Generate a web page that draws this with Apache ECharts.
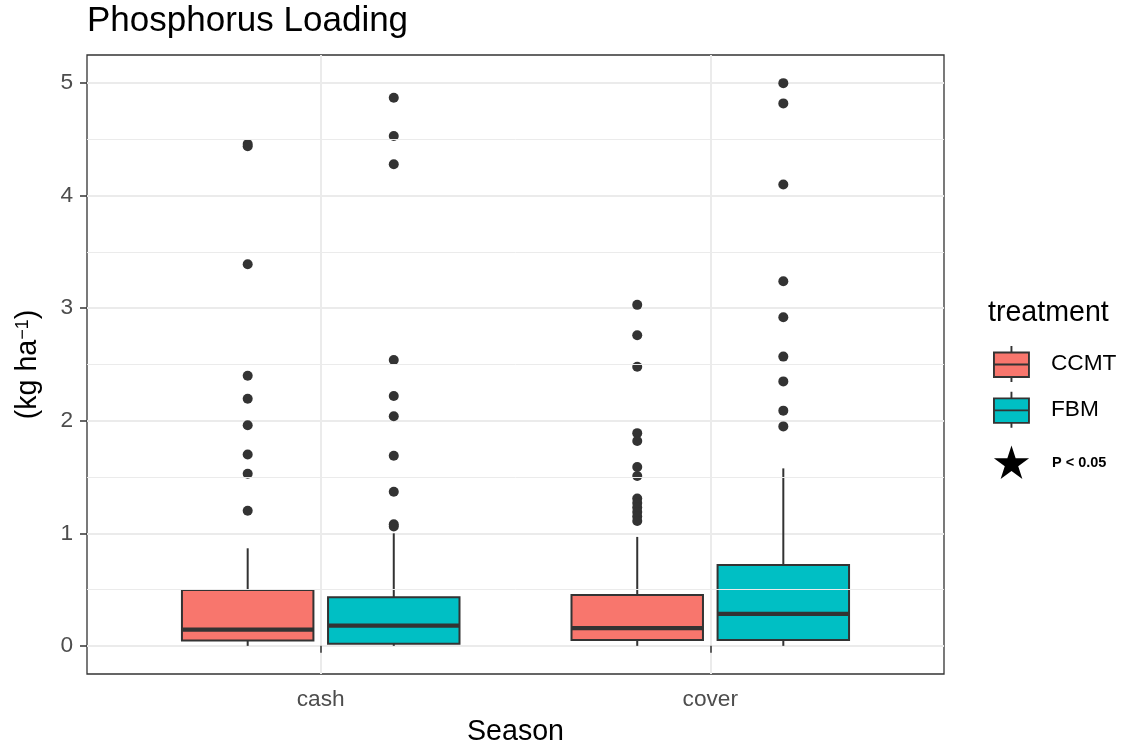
<!DOCTYPE html>
<html>
<head>
<meta charset="utf-8">
<script src="https://cdn.jsdelivr.net/npm/echarts@6/dist/echarts.min.js"></script>
<style>html,body{margin:0;padding:0;background:#fff}#c{width:1121px;height:746px}</style>
</head>
<body>
<div id="c"></div>
<script>
// ---- data ----
const categories = ['cash', 'cover'];
const groups = ['CCMT', 'FBM'];
const groupColors = ['#F8766D', '#00BFC4'];
// [lower whisker, Q1, median, Q3, upper whisker] per category
const ccmtBox = [[0.00, 0.047, 0.145, 0.497, 0.867], [0.00, 0.053, 0.157, 0.453, 0.968]];
const fbmBox  = [[0.00, 0.018, 0.180, 0.432, 1.000], [0.00, 0.053, 0.284, 0.719, 1.577]];
const ccmtOutCash  = [4.46, 4.44, 3.39, 2.40, 2.195, 1.96, 1.70, 1.53, 1.20];
const ccmtOutCover = [3.03, 2.76, 2.48, 1.89, 1.82, 1.59, 1.51, 1.31, 1.27, 1.23, 1.19, 1.15, 1.11];
const fbmOutCash   = [4.87, 4.53, 4.28, 2.54, 2.22, 2.04, 1.69, 1.37, 1.08, 1.06];
const fbmOutCover  = [5.00, 4.82, 4.10, 3.24, 2.92, 2.57, 2.35, 2.09, 1.95];
const yTicks = [0, 1, 2, 3, 4, 5];
const yMinor = [0.5, 1.5, 2.5, 3.5, 4.5];
const xTicks = [1, 2];

// ---- layout helpers (ggplot-like dodge) ----
const dodge = [-0.1875, 0.1875];
const boxWidth = 0.3375;
const boxes = [ccmtBox, fbmBox];
const outliers = [[ccmtOutCash, ccmtOutCover], [fbmOutCash, fbmOutCover]];
const DARK = '#333333';

function boxData(g) {
  return boxes[g].map((s, i) => [i + 1 + dodge[g]].concat(s));
}
function outData() {
  const pts = [];
  outliers.forEach((byCat, g) => byCat.forEach((vals, i) => vals.forEach(v => pts.push([i + 1 + dodge[g], v]))));
  return pts;
}
function renderBox(params, api) {
  const x = api.value(0);
  const lo = api.coord([x, api.value(1)]);
  const q1 = api.coord([x, api.value(2)]);
  const md = api.coord([x, api.value(3)]);
  const q3 = api.coord([x, api.value(4)]);
  const hi = api.coord([x, api.value(5)]);
  const hw = api.size([boxWidth, 0])[0] / 2;
  const color = api.visual('color');
  const cx = q1[0];
  return {
    type: 'group',
    children: [
      { type: 'line', shape: { x1: cx, y1: lo[1], x2: cx, y2: q1[1] }, style: { stroke: DARK, lineWidth: 2 } },
      { type: 'line', shape: { x1: cx, y1: q3[1], x2: cx, y2: hi[1] }, style: { stroke: DARK, lineWidth: 2 } },
      { type: 'rect', shape: { x: cx - hw, y: q3[1], width: hw * 2, height: q1[1] - q3[1] },
        style: { fill: color, stroke: DARK, lineWidth: 2 } },
      { type: 'line', shape: { x1: cx - hw, y1: md[1], x2: cx + hw, y2: md[1] }, style: { stroke: DARK, lineWidth: 4.3 } }
    ]
  };
}

// star polygon for annotation
function starPoints(cx, cy, R) {
  const r = R * 0.382, pts = [];
  for (let k = 0; k < 10; k++) {
    const rad = k % 2 === 0 ? R : r;
    const a = -Math.PI / 2 + k * Math.PI / 5;
    pts.push([cx + rad * Math.cos(a), cy + rad * Math.sin(a)]);
  }
  return pts;
}

const FONT = 'Liberation Sans, Arial, Helvetica, sans-serif';
const chart = echarts.init(document.getElementById('c'), null, { renderer: 'canvas' });
const boxIcon = 'path://M17.5,0L17.5,6.5M0,6.5L35,6.5L35,31L0,31ZM0,18.5L35,18.5M17.5,31L17.5,36';

chart.setOption({
  animation: false,
  textStyle: { fontFamily: FONT },
  title: [
    { text: 'Phosphorus Loading', left: 87, top: 4, padding: 0,
      textStyle: { fontFamily: FONT, fontSize: 35, fontWeight: 'normal', color: '#000' } },
    { text: 'treatment', left: 988, top: 299, padding: 0,
      textStyle: { fontFamily: FONT, fontSize: 28.6, fontWeight: 'normal', color: '#000' } }
  ],
  legend: {
    data: groups,
    orient: 'vertical', left: 993, top: 345, padding: 0,
    itemWidth: 35, itemHeight: 36, itemGap: 8,
    icon: boxIcon,
    itemStyle: { borderColor: DARK, borderWidth: 1.9 },
    textStyle: { fontFamily: FONT, fontSize: 22.7, color: '#000', padding: [0, 0, 0, 17] },
    selectedMode: false
  },
  grid: { left: 87, right: 177, top: 55, bottom: 72, show: true, borderColor: DARK, borderWidth: 1.3,
    containLabel: false, outerBoundsMode: 'none' },
  xAxis: {
    type: 'value', min: 0.4, max: 2.6,
    name: 'Season', nameLocation: 'middle', nameGap: 44, nameMoveOverlap: false,
    nameTextStyle: { fontFamily: FONT, fontSize: 28.6, color: '#000' },
    axisLine: { show: false },
    axisTick: { show: true, customValues: xTicks, length: 7, lineStyle: { color: DARK, width: 1.5 } },
    axisLabel: { customValues: xTicks, margin: 14, fontFamily: FONT, fontSize: 22.7, color: '#4D4D4D',
      formatter: v => categories[Math.round(v) - 1] },
    splitLine: { show: true, lineStyle: { color: '#EBEBEB', width: 2 } }
  },
  yAxis: {
    type: 'value', min: -0.25, max: 5.25,
    name: '{a|(kg ha}{b|−1}{a|)}', nameLocation: 'middle', nameRotate: 90, nameGap: 44, nameMoveOverlap: false,
    nameTextStyle: { fontFamily: FONT, fontSize: 28.6, color: '#000',
      rich: { a: { fontFamily: FONT, fontSize: 28.6, color: '#000', verticalAlign: 'bottom' },
              b: { fontFamily: FONT, fontSize: 18, color: '#000', verticalAlign: 'top' } } },
    axisLine: { show: false },
    axisTick: { show: true, customValues: yTicks, length: 7, lineStyle: { color: DARK, width: 1.5 } },
    axisLabel: { customValues: yTicks, margin: 14, fontFamily: FONT, fontSize: 22.7, color: '#4D4D4D' },
    splitLine: { show: true, lineStyle: { color: '#EBEBEB', width: 2 } }
  },
  series: [
    { type: 'line', name: 'minor', data: [], z: 0, silent: true,
      markLine: { silent: true, symbol: 'none', label: { show: false }, animation: false,
        lineStyle: { color: '#EBEBEB', width: 1, type: 'solid' },
        data: yMinor.map(v => ({ yAxis: v })) } },
    { type: 'custom', name: groups[0], renderItem: renderBox, data: boxData(0), z: 2,
      itemStyle: { color: groupColors[0] }, encode: { x: 0, y: [1, 2, 3, 4, 5] } },
    { type: 'custom', name: groups[1], renderItem: renderBox, data: boxData(1), z: 2,
      itemStyle: { color: groupColors[1] }, encode: { x: 0, y: [1, 2, 3, 4, 5] } },
    { type: 'scatter', name: 'outliers', data: outData(), symbol: 'circle', symbolSize: 10, z: 3,
      itemStyle: { color: DARK, opacity: 1 } }
  ],
  graphic: [
    { type: 'polygon', shape: { points: starPoints(1011.5, 464, 18.5) }, style: { fill: '#000' } },
    { type: 'text', left: 1052, top: 455, style: { text: 'P < 0.05', font: 'bold 14.5px ' + FONT, fill: '#000' } }
  ]
});
</script>
</body>
</html>
